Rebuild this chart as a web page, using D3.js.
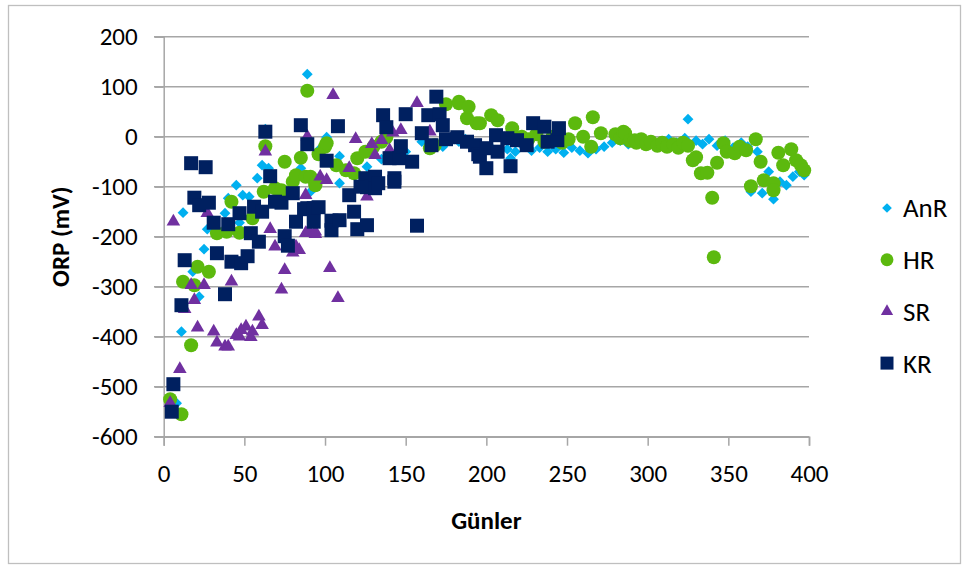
<!DOCTYPE html>
<html>
<head>
<meta charset="utf-8">
<script src="https://cdn.jsdelivr.net/npm/d3@7"></script>
<style>
  html, body { margin: 0; padding: 0; background: #fff; }
  svg { display: block; font-family: Carlito, Calibri, Lato, sans-serif; }
</style>
</head>
<body>
<svg id="chart" width="969" height="565"></svg>
<script>
// ORP (mV) measurements over days, four reactors
const seriesNames = ["AnR", "HR", "SR", "KR"];

const anrDays = [8, 11, 12, 18, 22, 25, 27, 38, 40, 45, 47, 49, 53, 58, 61, 63, 65, 85, 89, 91, 96, 101, 109, 109, 126, 135, 150, 160, 173, 180,
  183, 187, 193, 198, 203, 208, 213, 215, 218, 223, 228, 233, 238, 243, 248, 253, 258, 263, 268, 273, 278, 283, 288, 293, 298, 303, 308, 313, 318, 323, 325,
  330, 334, 338, 343, 348, 353, 358, 362, 364, 368, 371, 375, 378, 382, 386, 390, 394, 397];
const anrValues = [-533, -390, -152, -270, -320, -225, -185, -153, -123, -97, -172, -117, -120, -83, -57, 15, -63, -63, 125, -110, -27, -1, -39, -93, -60, -45, -30, -10, -20, -5,
  -10, -5, -18, -30, -22, -28, -25, -43, -30, -20, -28, -22, -30, -25, -32, -22, -28, -33, -25, -20, -12, -8, -15, -5, -12, -8, -15, -5, -12, -3, 35,
  -8, -15, -5, -18, -8, -22, -12, -20, -110, -30, -113, -70, -125, -90, -97, -80, -70, -77];

const hrDays = [4, 11, 12, 17, 19, 21, 28, 33, 39, 42, 47, 55, 62, 63, 69, 73, 75, 80, 82, 85, 88, 89, 91, 94, 94, 96, 100, 101, 107, 113, 118, 120, 125, 130, 135, 138,
  165, 168, 175, 183, 183, 188, 189, 194, 196, 203, 207, 216, 222, 226, 231, 236, 241, 247, 251, 255, 260, 265, 266, 271, 280, 283, 285, 286, 289, 292, 293, 296, 299,
  302, 306, 309, 312, 316, 319, 322, 325, 328, 330, 333, 337, 340, 341, 343, 347, 349, 354, 357, 361, 364, 367, 370, 372, 378, 378, 381, 384, 389, 392, 395, 397];
const hrValues = [-525, -555, -290, -417, -297, -260, -270, -193, -190, -130, -192, -163, -110, -19, -103, -107, -50, -90, -77, -42, -80, 92, -80, -93, -97, -35, -20, -13, -57, -67, -73, -43, -30, -20, -10, -1,
  -23, -17, 65, 70, 67, 37, 60, 27, 27, 43, 33, 17, 0, -5, 5, -10, 0, -12, -5, 27, 0, -20, 39, 7, 5, -3, 10, 7, -8, -7, -12, -5, -15,
  -10, -18, -12, -20, -15, -22, -12, -18, -47, -41, -73, -72, -122, -241, -52, -13, -30, -33, -20, -27, -99, -5, -50, -87, -93, -107, -32, -57, -25, -47, -57, -67];

const srDays = [4, 6, 10, 13, 17, 19, 21, 25, 27, 31, 33, 38, 40, 42, 45, 47, 48, 51, 54, 55, 59, 61, 63, 66, 69, 73, 75, 80, 82, 84,
  88, 88, 89, 90, 94, 94, 97, 101, 103, 105, 108, 115, 119, 126, 129, 131, 135, 140, 142, 147, 157, 165];
const srValues = [-533, -170, -465, -345, -297, -327, -382, -297, -153, -390, -412, -420, -420, -290, -397, -400, -387, -380, -401, -390, -360, -377, -30, -185, -220, -306, -267, -232, -220, -227,
  -117, -193, 0, -187, -195, -190, -80, -87, -263, 83, -323, -63, -5, -120, -15, -37, -7, -27, 8, 13, 67, 10];

const krDays = [5, 6, 11, 13, 17, 19, 22, 26, 28, 31, 33, 38, 40, 42, 47, 48, 52, 54, 56, 59, 61, 63, 66, 69, 73, 75, 77, 80, 82, 85,
  87, 89, 89, 93, 93, 96, 101, 104, 104, 108, 109, 115, 118, 120, 122, 125, 126, 126, 129, 131, 131, 133, 136, 138, 140, 143, 143, 146, 147, 150,
  154, 157, 160, 164, 166, 169, 171, 173, 175, 182, 188, 193, 195, 196, 200, 200, 206, 207, 213, 215, 219, 225, 229, 236, 238, 244, 245];
const krValues = [-550, -495, -337, -247, -53, -122, -137, -61, -132, -172, -233, -315, -175, -250, -153, -253, -239, -193, -140, -210, -150, 10, -79, -130, -132, -199, -218, -113, -170, 23,
  -145, -15, -143, -143, -170, -141, -48, -168, -187, 21, -167, -117, -150, -185, -100, -83, -101, -177, -100, -80, -103, -93, 43, 19, -43, -83, -90, -43, -19, 45,
  -50, -178, 7, 43, -17, 80, 45, 23, -5, -1, -10, -17, -35, -40, -23, -63, 3, -30, -3, -59, -7, -17, 27, 20, -10, -7, 17];

const xTicks = [0, 50, 100, 150, 200, 250, 300, 350, 400];
const yTicks = [-600, -500, -400, -300, -200, -100, 0, 100, 200];

const colors = { AnR: "#00B0F0", HR: "#5CB90E", SR: "#7030A0", KR: "#002060" };
const symbols = { AnR: d3.symbolDiamond2, HR: d3.symbolCircle, SR: d3.symbolTriangle, KR: d3.symbolSquare };
const sizes = { AnR: 75, HR: 155, SR: 80, KR: 196 };
const legendSizes = { AnR: 60, HR: 130, SR: 65, KR: 169 };

const series = [
  { name: "AnR", days: anrDays, values: anrValues },
  { name: "HR", days: hrDays, values: hrValues },
  { name: "SR", days: srDays, values: srValues },
  { name: "KR", days: krDays, values: krValues }
];

const svg = d3.select("#chart");
const gridColor = "#a6a6a6";
const fontFamily = "Carlito, Calibri, Lato, sans-serif";
const plainNumber = d => String(d);   // keeps the ASCII hyphen for negatives

// outer chart frame
svg.append("rect")
  .attr("x", 8.5).attr("y", 5.5).attr("width", 952).attr("height", 558)
  .attr("fill", "#fff").attr("stroke", "#bfbfbf").attr("stroke-width", 1.3);

const x = d3.scaleLinear().domain([0, 400]).range([163.7, 809]);
const y = d3.scaleLinear().domain([-600, 200]).range([436.7, 36.7]);

// horizontal gridlines with outside tick marks
svg.append("g")
  .selectAll("line")
  .data(yTicks)
  .join("line")
  .attr("x1", 154).attr("x2", 809)
  .attr("y1", d => y(d)).attr("y2", d => y(d))
  .attr("stroke", gridColor).attr("stroke-width", 1.5);

// y axis
const yAxis = svg.append("g")
  .attr("transform", `translate(${x(0)},0)`)
  .call(d3.axisLeft(y).tickValues(yTicks).tickSize(9).tickPadding(17).tickFormat(plainNumber));
yAxis.select(".domain").attr("stroke", gridColor).attr("stroke-width", 1.5);
yAxis.selectAll(".tick line").attr("stroke", gridColor).attr("stroke-width", 1.5);
yAxis.selectAll("text").attr("font-size", 25).attr("fill", "#000").attr("font-family", fontFamily);

// x axis
const xAxis = svg.append("g")
  .attr("transform", `translate(0,${y(-600)})`)
  .call(d3.axisBottom(x).tickValues(xTicks).tickSize(9).tickPadding(19).tickFormat(plainNumber));
xAxis.select(".domain").attr("stroke", gridColor).attr("stroke-width", 1.5);
xAxis.selectAll(".tick line").attr("stroke", gridColor).attr("stroke-width", 1.5);
xAxis.selectAll("text").attr("font-size", 25).attr("fill", "#000").attr("font-family", fontFamily);

// markers, drawn in series order so later series sit on top
series.forEach(s => {
  const sym = d3.symbol().type(symbols[s.name]).size(sizes[s.name]);
  svg.append("g")
    .selectAll("path")
    .data(s.days.map((d, i) => [d, s.values[i]]))
    .join("path")
    .attr("d", sym)
    .attr("transform", d => `translate(${x(d[0])},${y(d[1])})`)
    .attr("fill", colors[s.name]);
});

// axis titles
svg.append("text")
  .attr("transform", `translate(69,${(y(200) + y(-600)) / 2}) rotate(-90)`)
  .attr("text-anchor", "middle")
  .attr("font-size", 25).attr("font-weight", "bold")
  .text("ORP (mV)");

svg.append("text")
  .attr("x", (x(0) + x(400)) / 2).attr("y", 529)
  .attr("text-anchor", "middle")
  .attr("font-size", 25).attr("font-weight", "bold")
  .text("Günler");

// legend
const legend = svg.append("g");
seriesNames.forEach((name, i) => {
  const cy = 208 + i * 51.7;
  legend.append("path")
    .attr("d", d3.symbol().type(symbols[name]).size(legendSizes[name]))
    .attr("transform", `translate(887,${cy})`)
    .attr("fill", colors[name]);
  legend.append("text")
    .attr("x", 903).attr("y", cy)
    .attr("dy", "0.35em")
    .attr("font-size", 27)
    .text(name);
});
</script>
</body>
</html>
